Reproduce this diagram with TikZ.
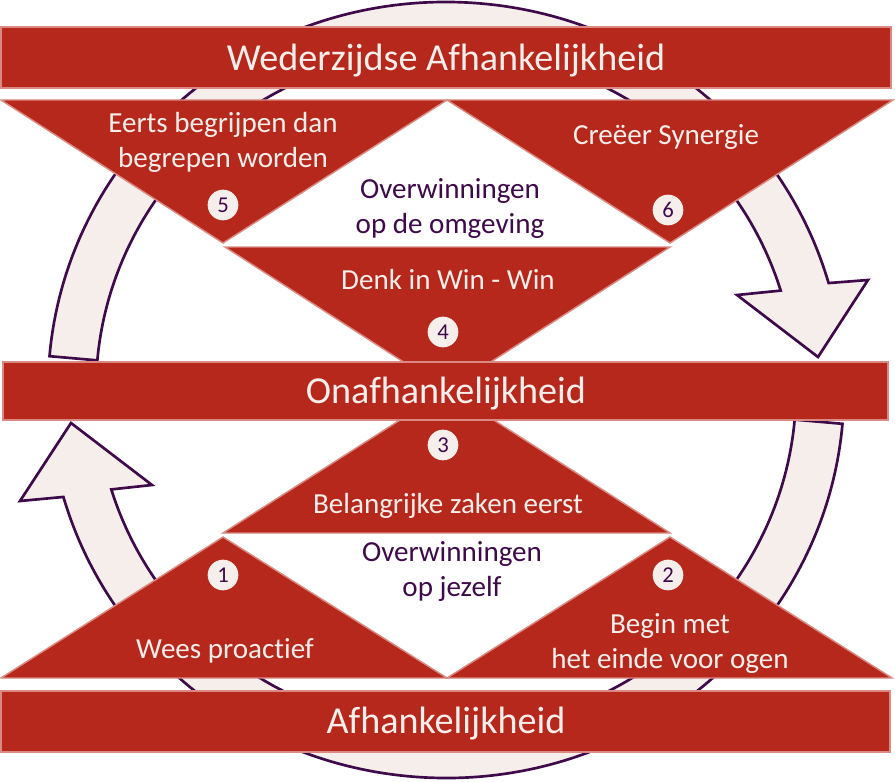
\documentclass[tikz,border=0pt]{standalone}
\usepackage{fontspec}
\setmainfont{Carlito}[Ligatures=NoCommon]
\definecolor{habitred}{HTML}{B7281C}
\definecolor{edgesalmon}{HTML}{DA8A82}
\definecolor{cream}{HTML}{F6EEEA}
\definecolor{plum}{HTML}{3E0A4A}

\begin{document}
\begin{tikzpicture}[
    x=0.75pt, y=-0.75pt,
    band/.style={fill=habitred, draw=edgesalmon, line width=1.1pt},
    wedge/.style={fill=habitred, draw=edgesalmon, line width=1.1pt},
    badge/.style={circle, fill=cream, inner sep=0pt, minimum size=23pt, text=plum, font=\fontsize{17}{20}\selectfont},
    ringarrow/.style={fill=cream, draw=plum, line width=2pt},
    heading/.style={text=cream, font=\fontsize{28.6}{34}\selectfont, anchor=base},
    habit/.style={text=cream, font=\fontsize{21.8}{26.25}\selectfont, align=center, anchor=base},
    victory/.style={text=plum, font=\fontsize{21.8}{26.25}\selectfont, align=center, anchor=base},
]

\useasboundingbox (0,0) rectangle (895,781);
\coordinate (hub) at (446,390);

% cycle arrows behind everything
\draw[ringarrow] ([shift={(hub)}]185:398 and 388)
    arc[start angle=185, end angle=344, x radius=398, y radius=388]
    -- (868,280) -- (818,357) -- (737,295)
    -- ([shift={(hub)}]343:350 and 340)
    arc[start angle=343, end angle=185, x radius=350, y radius=340] -- cycle;
\draw[ringarrow] ([shift={(hub)}]5:398 and 388)
    arc[start angle=5, end angle=164, x radius=398, y radius=388]
    -- (20,501) -- (71,423) -- (152,485)
    -- ([shift={(hub)}]163:350 and 340)
    arc[start angle=163, end angle=5, x radius=350, y radius=340] -- cycle;

% wedges
\draw[wedge] (1,100) -- (447,100) -- (223,243) -- cycle;
\draw[wedge] (447,100) -- (893,100) -- (670,243) -- cycle;
\draw[wedge] (225,247) -- (670,247) -- (447,390) -- cycle;
\draw[wedge] (223,533) -- (670,533) -- (447,390) -- cycle;
\draw[wedge] (1,678) -- (447,678) -- (223,537) -- cycle;
\draw[wedge] (447,678) -- (892,678) -- (670,537) -- cycle;

% bands
\draw[band] (1,27) rectangle (891,88);
\draw[band] (3,362) rectangle (888,420);
\draw[band] (1,691) rectangle (890,752);

\node[heading] (mutual) at (446,71) {Wederzijdse Afhankelijkheid};
\node[heading] (indep) at (446,403) {Onafhankelijkheid};
\node[heading] (dep) at (446,733) {Afhankelijkheid};

% habits (base = last line)
\node[habit] (h5) at (223,167) {Eerts begrijpen dan\\begrepen worden};
\node[habit] (h6) at (666,145) {Creëer Synergie};
\node[habit] (h4) at (448,289) {Denk in Win - Win};
\node[habit] (h3) at (448,513) {Belangrijke zaken eerst};
\node[habit] (h1) at (225,658) {Wees proactief};
\node[habit] (h2) at (670,668) {Begin met\\het einde voor ogen};

\node[victory] (public) at (450,233) {Overwinningen\\op de omgeving};
\node[victory] (private) at (452,596) {Overwinningen\\op jezelf};

% numbers
\node[badge] (n1) at (223,575) {1};
\node[badge] (n2) at (668,575) {2};
\node[badge] (n3) at (443,445) {3};
\node[badge] (n4) at (443,332) {4};
\node[badge] (n5) at (223,205) {5};
\node[badge] (n6) at (668,210) {6};

\end{tikzpicture}
\end{document}
